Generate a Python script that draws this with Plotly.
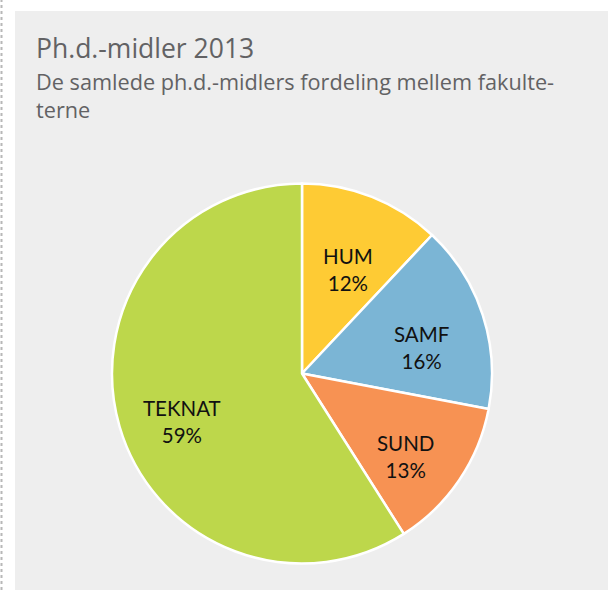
import math
import plotly.graph_objects as go

categories = ["HUM", "SAMF", "SUND", "TEKNAT"]
shares = [12, 16, 13, 59]
colors = ["#FECB34", "#7BB5D5", "#F79253", "#BDD74B"]

title_text = "Ph.d.-midler 2013"
subtitle_text = "De samlede ph.d.-midlers fordeling mellem fakulte-<br>terne"

W, H = 608, 590
CX, CY, R = 302, 373.5, 190  # pie centre and radius in pixels

fig = go.Figure()
fig.add_trace(go.Pie(
    labels=categories,
    values=shares,
    sort=False,
    direction="clockwise",
    rotation=0,
    marker=dict(colors=colors, line=dict(color="white", width=2.5)),
    textinfo="none",
    hoverinfo="label+percent",
    showlegend=False,
    domain=dict(x=[(CX - R) / W, (CX + R) / W], y=[(H - CY - R) / H, (H - CY + R) / H]),
))

# slice labels placed along each slice's mid-angle (computed from the data)
total = sum(shares)
label_annotations = []
cum = 0
for cat, v in zip(categories, shares):
    mid = 2 * math.pi * (cum + v / 2) / total
    cum += v
    f = 0.66
    px = CX + f * R * math.sin(mid)
    py = CY - f * R * math.cos(mid)
    label_annotations.append(dict(
        text=f"{cat}<br>{v}%", xref="paper", yref="paper",
        x=px / W, y=(H - py) / H, xanchor="center", yanchor="middle",
        yshift=-13, showarrow=False, align="center",
        font=dict(family="Lato, Open Sans, sans-serif", size=20.5, color="#111111"),
    ))

fig.update_layout(
    width=W, height=H,
    margin=dict(l=0, r=0, t=0, b=0),
    paper_bgcolor="white",
    plot_bgcolor="white",
    shapes=[
        dict(type="rect", xref="paper", yref="paper", x0=15 / W, x1=1, y0=0, y1=(H - 11) / H,
             fillcolor="#EEEEEE", line=dict(width=0), layer="below"),
        dict(type="line", xref="paper", yref="paper", x0=1.5 / W, x1=1.5 / W, y0=0, y1=1,
             line=dict(color="#B8B8B8", width=2, dash="3px,3px"), layer="below"),
    ],
    annotations=[
        dict(text=title_text, xref="paper", yref="paper", x=34 / W, y=(H - 28) / H,
             xanchor="left", yanchor="top", showarrow=False, align="left",
             font=dict(family="Open Sans, sans-serif", size=26.5, color="#626264")),
        dict(text=subtitle_text, xref="paper", yref="paper", x=34 / W, y=(H - 65) / H,
             xanchor="left", yanchor="top", showarrow=False, align="left",
             font=dict(family="Open Sans, sans-serif", size=21.7, color="#626264")),
    ] + label_annotations,
)

fig.write_html("out.html", config={"displayModeBar": False},
               post_script="document.body.style.margin='0';")
